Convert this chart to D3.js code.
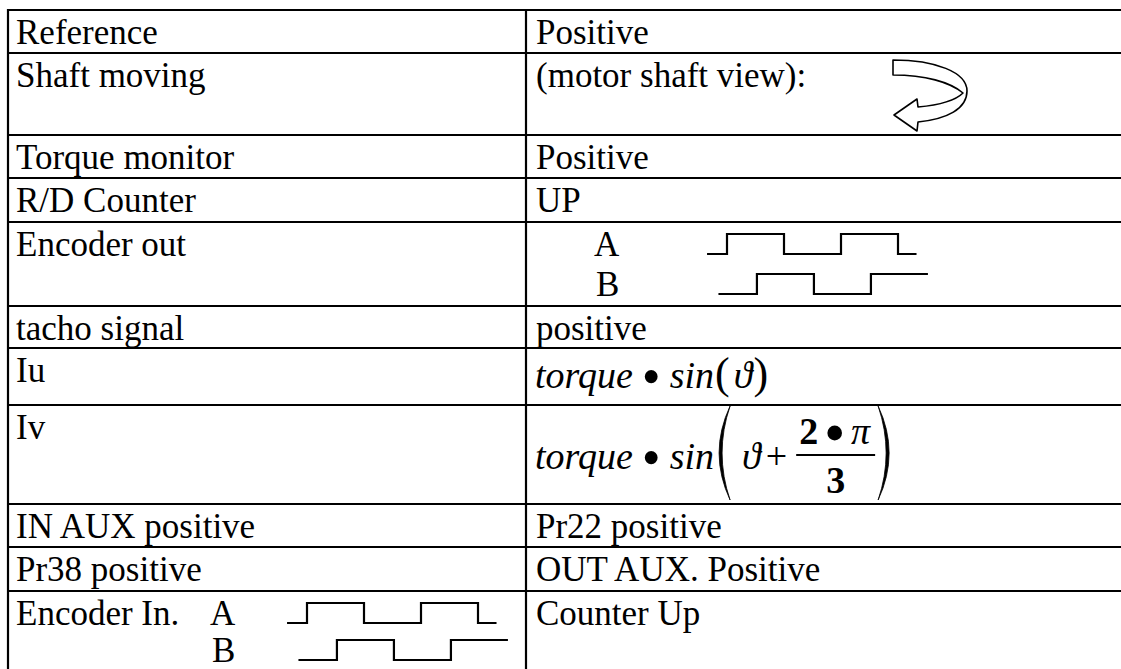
<!DOCTYPE html>
<html><head><meta charset="utf-8">
<script src="https://cdn.jsdelivr.net/npm/d3@7"></script>
<style>html,body{margin:0;padding:0;background:#fff;}svg{display:block;}</style>
</head><body><svg id="c" width="1121" height="669"></svg>
<script>
// ---- data ----
const leftLabels = ["Reference","Shaft moving","Torque monitor","R/D Counter","Encoder out","tacho signal","Iu","Iv","IN AUX positive","Pr38 positive","Encoder In."];
const rightValues = ["Positive","(motor shaft view):","Positive","UP","","positive","","","Pr22 positive","OUT AUX. Positive","Counter Up"];
const signalLabels = ["A","B"];
// square waves: [time in quarter periods, level]
const waveA = [[-0.7,0],[0,1],[2,0],[4,1],[6,0],[6.65,0]];
const waveB = [[-0.3,0],[1.05,1],[3.05,0],[5.05,1],[7.05,1]];
const fracNum = ["2","•","π"];
const fracDen = "3";

// ---- layout ----
const rowTops = [10,53,135,178,222,306,348,405,504,547,591,676];
const xLeft = 8, xDiv = 526, xRight = 1140;
const FONT = "'Liberation Serif','Times New Roman',serif";
const svg = d3.select("#c");
const g = svg.append("g").attr("font-family", FONT).attr("fill","#000");

// grid
g.selectAll("line.h").data(rowTops).enter().append("line")
  .attr("x1", xLeft).attr("x2", xRight).attr("y1", d=>d).attr("y2", d=>d)
  .attr("stroke","#000").attr("stroke-width",2.2);
[xLeft, xDiv].forEach(x=>{
  g.append("line").attr("x1",x).attr("x2",x).attr("y1",rowTops[0]-1).attr("y2",rowTops[rowTops.length-1])
   .attr("stroke","#000").attr("stroke-width",2.2);
});

// plain text
const fs = 35, base = 34;
g.selectAll("text.l").data(leftLabels).enter().append("text")
  .attr("x", 16).attr("y", (d,i)=>rowTops[i]+base).attr("font-size",fs).text(d=>d);
g.selectAll("text.r").data(rightValues).enter().append("text")
  .attr("x", 536).attr("y", (d,i)=>rowTops[i]+base).attr("font-size",fs).text(d=>d);

// encoder A/B diagrams
function encoder(rowIdx, labelX, waveX0, lineGap) {
  const top = rowTops[rowIdx];
  signalLabels.forEach((s,k)=>{
    g.append("text").attr("x", labelX + (k?2:0)).attr("y", top+base+k*lineGap).attr("font-size",fs).text(s);
  });
  const x = d3.scaleLinear().domain([0,1]).range([waveX0, waveX0+28.5]);
  [waveA, waveB].forEach((w,k)=>{
    const bl = top + base + k*lineGap;
    const y = d3.scaleLinear().domain([0,1]).range([bl-2, bl-22]);
    const line = d3.line().x(d=>x(d[0])).y(d=>y(d[1])).curve(d3.curveStepAfter);
    g.append("path").attr("d", line(w)).attr("fill","none").attr("stroke","#000").attr("stroke-width",2.2);
  });
}
encoder(4, 594, 727, 40);
encoder(10, 210, 307, 37);

// rotation arrow
g.append("path")
  .attr("d","M893,60 C935,60 967,72 967,91 C967,109 947,119 918,122 L917,131 L894,115 L917,99 L918,107 C940,105 956,100 963,93 C950,82 925,75 893,75 Z")
  .attr("fill","#fff").attr("stroke","#000").attr("stroke-width",1.6).attr("stroke-linejoin","round");

// formulas
const ffs = 38;
function seq(x, y, pieces) {
  pieces.forEach(p=>{
    x += p.before || 0;
    const t = g.append("text").attr("x", x).attr("y", y + (p.dy||0)).text(p.t)
      .attr("font-size", p.size || ffs)
      .attr("font-style", p.italic ? "italic" : "normal")
      .attr("font-weight", p.bold ? "bold" : "normal");
    x += t.node().getComputedTextLength() + (p.after || 0);
  });
  return x;
}
const bullet = {t:"•", size:54, before:9, after:9, dy:7};
// Iu
seq(535, 388, [
  {t:"torque", italic:true},
  bullet,
  {t:"sin", italic:true},
  {t:"(", size:44, before:1},
  {t:"ϑ", italic:true, before:4},
  {t:")", size:44, before:1}
]);
// Iv
const ivBase = 469;
let x = seq(535, ivBase, [
  {t:"torque", italic:true},
  bullet,
  {t:"sin", italic:true}
]);
function paren(x0, left) {
  const t = 406, b = 500, m = (t+b)/2;
  const e = left ? x0+18 : x0;
  const o1 = left ? x0-4 : x0+22, o2 = left ? x0+2 : x0+16;
  g.append("path").attr("d", `M${e},${t} Q${o1},${m} ${e},${b} Q${o2},${m} ${e},${t} Z`)
   .attr("fill","#000").attr("stroke","#000").attr("stroke-width",0.8);
}
paren(x-2, true);
x += 22;
x = seq(x, ivBase, [
  {t:"ϑ", italic:true, before:6},
  {t:"+", before:5, after:9}
]);
// fraction
const numG = g.append("g");
let nx = 0;
fracNum.forEach((s,i)=>{
  const isB = s==="•";
  const t = numG.append("text").attr("x", nx + (i?7:0)).attr("y", 444 + (isB?7:0))
    .attr("font-size", isB ? 54 : ffs)
    .attr("font-weight", s==="π" ? "normal" : "bold").attr("font-style", s==="π"?"italic":"normal").text(s);
  nx = +t.attr("x") + t.node().getComputedTextLength();
});
const barW = nx + 8;
numG.attr("transform", `translate(${x+3},0)`);
g.append("line").attr("x1", x).attr("x2", x+barW).attr("y1",455).attr("y2",455).attr("stroke","#000").attr("stroke-width",1.8);
g.append("text").attr("x", x+barW/2).attr("y",493).attr("text-anchor","middle").attr("font-size",ffs).attr("font-weight","bold").text(fracDen);
paren(x+barW+3, false);
</script></body></html>
